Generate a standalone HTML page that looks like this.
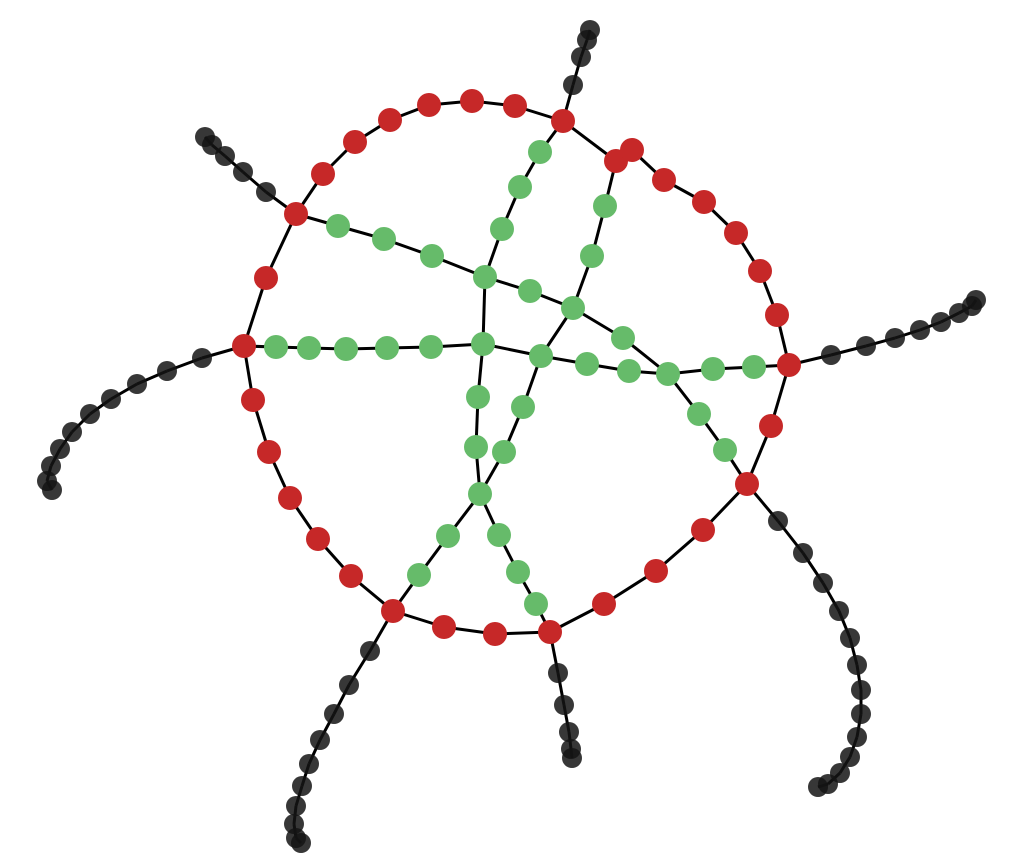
<!DOCTYPE html>
<html><head><meta charset="utf-8"><style>html,body{margin:0;padding:0;background:#fff;width:1024px;height:867px;overflow:hidden}</style></head>
<body>
<svg id="g" width="1024" height="867" viewBox="0 0 1024 867" xmlns="http://www.w3.org/2000/svg">
<g id="edges"></g>
<g id="nodes"></g>
</svg>
<script>
const ring = [[563,121],[616,161],[632,150],[664,180],[704,202],[736,233],[760,271],[777,315],[789,365],[771,426],[747,484],[703,530],[656,571],[604,604],[550,632],[495,634],[444,627],[393,611],[351,576],[318,539],[290,498],[269,452],[253,400],[244,346],[266,278],[296,214],[323,174],[355,142],[390,120],[429,105],[472,101],[515,106],[563,121]];
const tails = [
 [[563,121],[573,85],[581,57],[587,40],[590,30]],
 [[296,214],[266,192],[243,172],[225,156],[212,145],[205,137]],
 [[244,346],[202,358],[167,371],[137,384],[111,399],[90,414],[72,432],[60,449],[51,466],[47,481],[52,490]],
 [[393,611],[370,651],[349,685],[334,714],[320,740],[309,764],[302,786],[296,806],[294,824],[296,838],[301,843]],
 [[550,632],[558,673],[564,705],[569,732],[571,749],[572,758]],
 [[747,484],[778,521],[803,553],[823,583],[839,611],[850,638],[857,665],[861,690],[861,714],[857,737],[850,757],[840,773],[828,784],[818,787]],
 [[789,365],[831,355],[866,346],[895,338],[920,330],[941,322],[959,313],[972,306],[976,300]]
];
const chords = [
 [[563,121],[540,152],[520,187],[502,229],[485,277],[483,344],[478,397],[476,447],[480,494],[499,535],[518,572],[536,604],[550,632]],
 [[616,161],[605,206],[592,256],[573,308],[541,356],[523,407],[504,452],[480,494],[448,536],[419,575],[393,611]],
 [[296,214],[338,226],[384,239],[432,256],[485,277],[530,291],[573,308],[623,338],[668,374],[699,414],[725,450],[747,484]],
 [[244,346],[276,347],[309,348],[346,349],[387,348],[431,347],[483,344],[541,356],[587,364],[629,371],[668,374],[713,369],[754,367],[789,365]]
];
const NS='http://www.w3.org/2000/svg';
const E=document.getElementById('edges'), N=document.getElementById('nodes');
const nodes=new Map();
function addPath(pts,color,pri){
  for(let i=0;i<pts.length-1;i++){
    const l=document.createElementNS(NS,'line');
    l.setAttribute('x1',pts[i][0]);l.setAttribute('y1',pts[i][1]);
    l.setAttribute('x2',pts[i+1][0]);l.setAttribute('y2',pts[i+1][1]);
    l.setAttribute('stroke','#000');l.setAttribute('stroke-width','3');
    
    
    E.appendChild(l);
  }
  pts.forEach(p=>{const k=p[0]+','+p[1];const o=nodes.get(k);if(!o||o.pri<pri)nodes.set(k,{p,color,pri});});
}
tails.forEach(t=>addPath(t,'black',0));
chords.forEach(c=>addPath(c,'green',1));
addPath(ring,'red',2);
const fills={black:'rgba(20,20,20,0.85)',green:'#66bb6a',red:'#c62828'};
const order=['black','green','red'];
order.forEach(col=>{nodes.forEach(n=>{if(n.color!==col)return;
  const c=document.createElementNS(NS,'circle');
  c.setAttribute('cx',n.p[0]);c.setAttribute('cy',n.p[1]);
  c.setAttribute('r',col==='black'?10:12);
  c.setAttribute('fill',fills[col]);
  
  
  N.appendChild(c);});});
</script>
</body></html>
